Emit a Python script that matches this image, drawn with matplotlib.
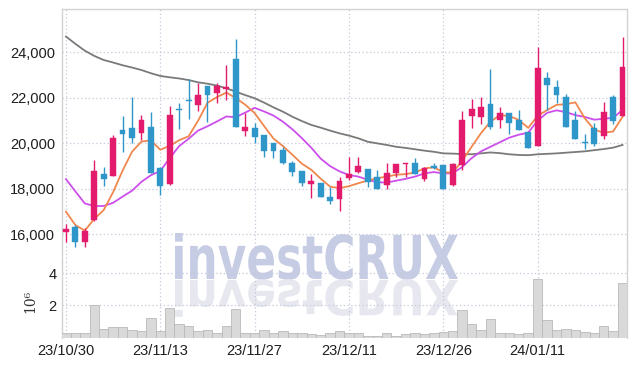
import matplotlib
matplotlib.use('Agg')
import matplotlib.pyplot as plt
from matplotlib.textpath import TextPath
from matplotlib.patches import PathPatch
from matplotlib.font_manager import FontProperties
from matplotlib.transforms import Affine2D
import numpy as np

# ---------------- data ----------------
opens = [16120, 16310, 15680, 16630, 18650, 18560, 20590, 20670, 20440, 20720,
         18920, 18200, 21500, 21900, 21700, 22520, 22200, 22370, 23690, 20560,
         20660, 20350, 20000, 19710, 19120, 18780, 18230, 18270, 17640, 17550,
         18490, 18740, 18870, 18510, 18180, 18680, 19090, 19120, 18450, 19020,
         19050, 18170, 19050, 21220, 21170, 21710, 21030, 21320, 21030, 20480,
         19880, 22870, 22490, 22020, 21030, 20040, 20690, 20340, 22040, 21220]
highs = [16450, 16410, 16270, 19270, 18960, 20380, 21220, 22020, 21230, 21360,
         18950, 21660, 21790, 22810, 22670, 22520, 22670, 23460, 24590, 21350,
         20910, 20360, 20010, 19850, 19220, 18790, 18650, 18280, 18100, 18510,
         19410, 19410, 18880, 18830, 19150, 19080, 19150, 19340, 18980, 19150,
         19050, 19150, 21440, 21930, 22050, 23250, 21580, 21320, 21470, 20490,
         24220, 23120, 22780, 22170, 21440, 20400, 20910, 21820, 22110, 24660]
lows = [15680, 15460, 15430, 16600, 18130, 18550, 19630, 20000, 20150, 18700,
        17730, 18190, 20620, 21060, 21440, 20940, 21790, 21910, 20700, 20320,
        20000, 19410, 19340, 19100, 18580, 18140, 17580, 17640, 17320, 17030,
        18390, 18680, 18100, 17990, 17990, 18540, 18540, 18650, 18350, 18880,
        17990, 18130, 18830, 20660, 20840, 20620, 20660, 20400, 20580, 19780,
        19880, 21470, 21760, 20730, 20200, 19740, 19880, 20210, 20840, 21200]
closes = [16260, 15680, 16160, 18780, 18450, 20220, 20410, 20250, 21030, 18710,
          18140, 21250, 21480, 21880, 22110, 22140, 22520, 22460, 20700, 20700,
          20290, 19680, 19680, 19120, 18760, 18270, 18330, 17660, 17470, 18330,
          18650, 19000, 18320, 17990, 18680, 19080, 19120, 18650, 18900, 18900,
          17990, 19090, 21030, 21510, 21580, 20730, 21320, 20910, 20590, 19810,
          23300, 22560, 22130, 20730, 20210, 20020, 19970, 21380, 21000, 23360]
volumes_m = [0.25, 0.31, 0.31, 2.00, 0.56, 0.66, 0.66, 0.49, 0.43, 1.24,
             0.43, 1.86, 0.82, 0.74, 0.43, 0.49, 0.31, 0.74, 1.79, 0.31,
             0.31, 0.49, 0.31, 0.43, 0.25, 0.25, 0.22, 0.16, 0.25, 0.39,
             0.31, 0.31, 0.12, 0.12, 0.25, 0.12, 0.20, 0.25, 0.20, 0.25,
             0.33, 0.39, 1.69, 0.82, 0.49, 1.18, 0.25, 0.25, 0.19, 0.25,
             3.65, 1.11, 0.49, 0.56, 0.45, 0.33, 0.27, 0.74, 0.43, 3.42]
ma_short = [17000, 16410, 16170, 16680, 17070, 17860, 18800, 19630, 20080, 20130,
            19720, 19890, 20140, 20310, 20990, 21780, 22030, 22230, 21990, 21700,
            21330, 20760, 20210, 19880, 19500, 19110, 18840, 18450, 18100, 18030,
            18120, 18250, 18370, 18470, 18540, 18620, 18650, 18720, 18900, 18950,
            18730, 18720, 19230, 19850, 20450, 20950, 21240, 21200, 21030, 20680,
            21210, 21460, 21690, 21720, 21800, 21100, 20600, 20470, 20520, 21170]
ma_mid = [18430, 17890, 17360, 17250, 17250, 17390, 17660, 17920, 18310, 18600,
          18790, 19350, 19880, 20200, 20560, 20750, 20960, 21180, 21150, 21350,
          21560, 21400, 21220, 20950, 20620, 20230, 19810, 19330, 19000, 18770,
          18610, 18540, 18400, 18290, 18280, 18360, 18440, 18540, 18680, 18740,
          18680, 18690, 18960, 19350, 19650, 19850, 20050, 20250, 20380, 20470,
          21000, 21340, 21450, 21370, 21240, 21160, 21040, 21080, 21120, 21470]
ma_long = [24690, 24370, 24070, 23840, 23660, 23550, 23430, 23330, 23220, 23080,
           22960, 22900, 22850, 22780, 22680, 22620, 22540, 22420, 22270, 22120,
           21980, 21790, 21580, 21390, 21170, 20980, 20810, 20690, 20560, 20440,
           20340, 20220, 20070, 20000, 19930, 19850, 19800, 19740, 19680, 19630,
           19560, 19550, 19530, 19520, 19560, 19600, 19570, 19520, 19490, 19480,
           19520, 19540, 19560, 19590, 19620, 19650, 19700, 19750, 19810, 19930]
date_ticks = [0, 10, 20, 30, 40, 50]
date_labels = ['23/10/30', '23/11/13', '23/11/27', '23/12/11', '23/12/26', '24/01/11']
price_ticks = [16000, 18000, 20000, 22000, 24000]
volume_ticks = [2, 4]

# ---------------- style ----------------
W, H = 635, 366
UP, DOWN = '#e31b6d', '#2e96c9'
GRID = '#c5c9db'
TXT = '#1e1e1e'
FONT = ['Liberation Sans', 'DejaVu Sans']
FS = 10.5

fig = plt.figure(figsize=(W / 100, H / 100), dpi=100, facecolor='white')


def rect(l, t, r, b):
    return [l / W, 1 - b / H, (r - l) / W, (b - t) / H]


ax = fig.add_axes(rect(62, 9, 626.5, 262))
axv = fig.add_axes(rect(62, 262, 626.5, 337.5), sharex=ax)
for a in (ax, axv):
    a.set_facecolor('none')
    for s in a.spines.values():
        s.set_color('#d2d2d2')
        s.set_linewidth(1.0)
    a.tick_params(length=0, labelsize=FS, labelcolor=TXT)
    a.grid(True, linestyle=(0, (1, 2)), color=GRID, linewidth=0.9)
    a.set_axisbelow(True)
ax.spines['bottom'].set_visible(False)
axv.spines['top'].set_visible(False)
axv.spines['bottom'].set_visible(False)

x = np.arange(len(closes))

# moving averages
ax.plot(x, ma_long, color='#7a7a7a', lw=1.3, zorder=2)
ax.plot(x, ma_mid, color='#cc4fec', lw=1.3, zorder=2)
ax.plot(x, ma_short, color='#f0874e', lw=1.3, zorder=2)

# candles
for i in x:
    o, h, l, c = opens[i], highs[i], lows[i], closes[i]
    col = UP if c >= o else DOWN
    ax.vlines(i, l, h, color=col, lw=1.0, zorder=3)
    body = max(abs(c - o), 45)
    ax.bar(i, body, bottom=min(o, c) - (body - abs(c - o)) / 2, width=0.62,
           color=col, edgecolor=col, linewidth=0.3, zorder=4)

ax.set_ylim(14790, 25900)
ax.set_yticks(price_ticks)
ax.set_yticklabels([f'{v:,}' for v in price_ticks], family=FONT)
ax.tick_params(axis='y', pad=5)
ax.set_xlim(-0.42, 59.42)
plt.setp(ax.get_xticklabels(), visible=False)

# volume
axv.bar(x, volumes_m, width=1.0, color='#d9d9d9', edgecolor='#b9b9b9',
        linewidth=0.6, zorder=3)
axv.set_ylim(0, 4.7)
axv.set_yticks(volume_ticks)
axv.set_yticklabels([str(v) for v in volume_ticks], family=FONT)
axv.set_xticks(date_ticks)
axv.set_xticklabels(date_labels, family=FONT)
axv.tick_params(axis='x', pad=5)
axv.tick_params(axis='y', pad=4)

fig.text(30 / W, 1 - 301 / H, '10\u2076', rotation=90, family='DejaVu Serif',
         fontsize=10, color='#333333', ha='center', va='center')

# watermark with reflection
fp = FontProperties(family='DejaVu Sans', weight='bold')
tp = TextPath((0, 0), 'investCRUX', size=100, prop=fp)
bb = tp.get_extents()
x0, x1 = 175, 458
base, top = H - 279, H - 233
sx = (x1 - x0) / bb.width
sy = (top - base) / bb.y1
tr = Affine2D().translate(-bb.x0, 0).scale(sx, sy).translate(x0, base).scale(1 / W, 1 / H)
fig.add_artist(PathPatch(tr.transform_path(tp), facecolor='#c6cce3', edgecolor='none',
                         transform=fig.transFigure, zorder=-1))
tr2 = Affine2D().translate(-bb.x0, 0).scale(sx, -sy * 0.8).translate(x0, base - 1).scale(1 / W, 1 / H)
fig.add_artist(PathPatch(tr2.transform_path(tp), facecolor='#e7e8ef', edgecolor='none',
                         transform=fig.transFigure, zorder=-1))

fig.savefig('out.png', dpi=100, facecolor='white')
